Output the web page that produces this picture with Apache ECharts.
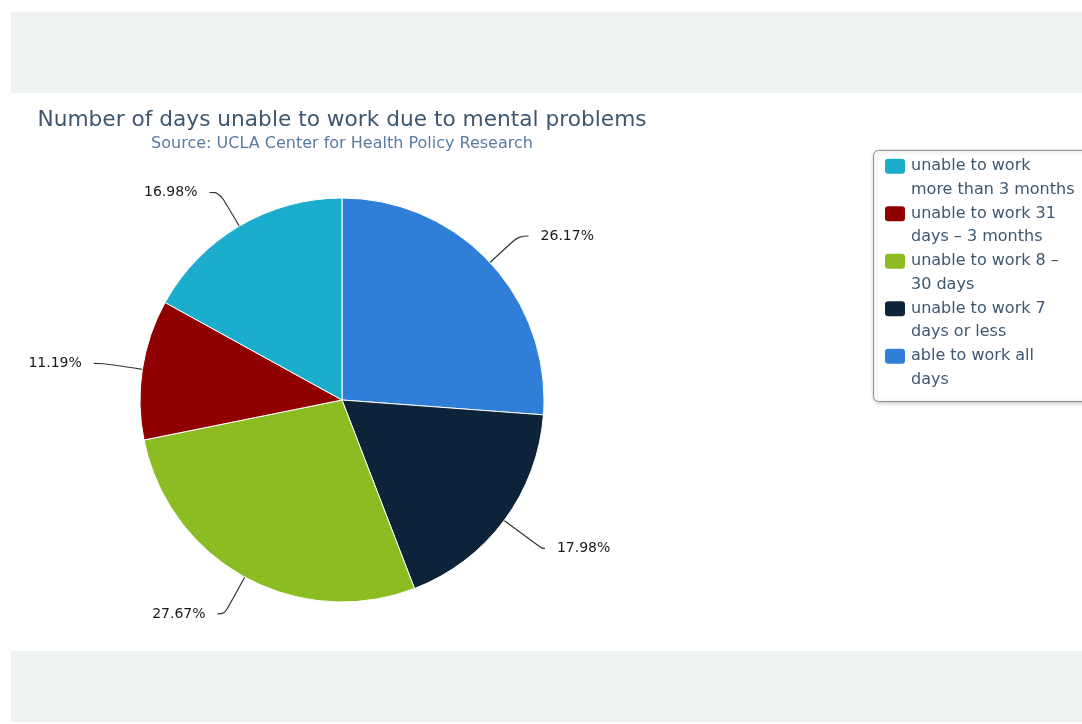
<!DOCTYPE html>
<html>
<head>
<meta charset="utf-8">
<script src="https://cdn.jsdelivr.net/npm/echarts@6/dist/echarts.min.js"></script>
<style>
  html, body { margin: 0; padding: 0; background: #ffffff; }
  #chart { width: 1082px; height: 724px; }
</style>
</head>
<body>
<div id="chart"></div>
<script>
// Share of respondents by number of days unable to work (mental health)
const categories = [
  'able to work all days',
  'unable to work 7 days or less',
  'unable to work 8 – 30 days',
  'unable to work 31 days – 3 months',
  'unable to work more than 3 months'
];
const shares = [26.17, 17.98, 27.67, 11.19, 16.98];
const sliceColors = ['#2f7ed8', '#0d233a', '#8bbc21', '#910000', '#1aadce'];

// Legend lists the groups in reverse order, each label wrapped onto two lines
const legendOrder = [
  'unable to work more than 3 months',
  'unable to work 31 days – 3 months',
  'unable to work 8 – 30 days',
  'unable to work 7 days or less',
  'able to work all days'
];
const legendLines = {
  'unable to work more than 3 months': 'unable to work\nmore than 3 months',
  'unable to work 31 days – 3 months': 'unable to work 31\ndays – 3 months',
  'unable to work 8 – 30 days': 'unable to work 8 –\n30 days',
  'unable to work 7 days or less': 'unable to work 7\ndays or less',
  'able to work all days': 'able to work all\ndays'
};

// Connector geometry per slice (lower labels sit a little further out)
const connectorShape = [
  { length: 39, length2: 10 },
  { length: 47, length2: 3 },
  { length: 42, length2: 7 },
  { length: 39, length2: 10 },
  { length: 39, length2: 10 }
];

const FONT = '"DejaVu Sans", Verdana, sans-serif';
const LEGEND_LH = 23.5;

const chart = echarts.init(document.getElementById('chart'), null, { renderer: 'canvas' });

chart.setOption({
  animation: false,
  backgroundColor: '#ffffff',
  graphic: [
    { type: 'rect', z: -10, shape: { x: 11, y: 12, width: 1071, height: 81 }, style: { fill: '#eef2f3' }, silent: true },
    { type: 'rect', z: -10, shape: { x: 11, y: 651, width: 1071, height: 71 }, style: { fill: '#eef2f3' }, silent: true },
    {
      type: 'rect', z: -5,
      shape: { x: 873.5, y: 150.5, width: 230, height: 251, r: 5 },
      style: {
        fill: '#ffffff', stroke: '#909090', lineWidth: 1,
        shadowBlur: 4, shadowOffsetX: 1, shadowOffsetY: 1, shadowColor: 'rgba(0,0,0,0.25)'
      },
      silent: true
    }
  ],
  title: {
    text: 'Number of days unable to work due to mental problems',
    subtext: 'Source: UCLA Center for Health Policy Research',
    left: 342,
    top: 109,
    textAlign: 'center',
    itemGap: 5,
    padding: 0,
    textStyle: { fontFamily: FONT, fontSize: 21.7, fontWeight: 'normal', color: '#3e576f' },
    subtextStyle: { fontFamily: FONT, fontSize: 16, color: '#5a7ba0' }
  },
  legend: {
    orient: 'vertical',
    left: 883,
    top: 131,
    padding: 0,
    itemGap: 47.5 - 3 * LEGEND_LH,
    itemWidth: 22,
    itemHeight: 17,
    icon: 'roundRect',
    selectedMode: false,
    data: legendOrder,
    // leading blank line keeps the first text line level with the swatch
    formatter: name => '\n' + legendLines[name],
    textStyle: {
      fontFamily: FONT,
      fontSize: 16,
      color: '#3e576f',
      lineHeight: LEGEND_LH
    }
  },
  series: [{
    type: 'pie',
    center: [342, 400],
    radius: 202,
    startAngle: 90,
    clockwise: true,
    avoidLabelOverlap: false,
    data: categories.map((name, i) => ({
      name: name,
      value: shares[i],
      itemStyle: { color: sliceColors[i] },
      labelLine: connectorShape[i]
    })),
    itemStyle: { borderColor: '#ffffff', borderWidth: 1 },
    label: {
      show: true,
      position: 'outside',
      formatter: p => p.value.toFixed(2) + '%',
      fontFamily: FONT,
      fontSize: 14,
      color: '#1a1a1a',
      distanceToLabelLine: 12
    },
    labelLine: {
      show: true,
      length: 39,
      length2: 10,
      smooth: 0.4,
      lineStyle: { color: '#333333', width: 1.2 }
    },
    emphasis: { disabled: true }
  }]
});
</script>
</body>
</html>
